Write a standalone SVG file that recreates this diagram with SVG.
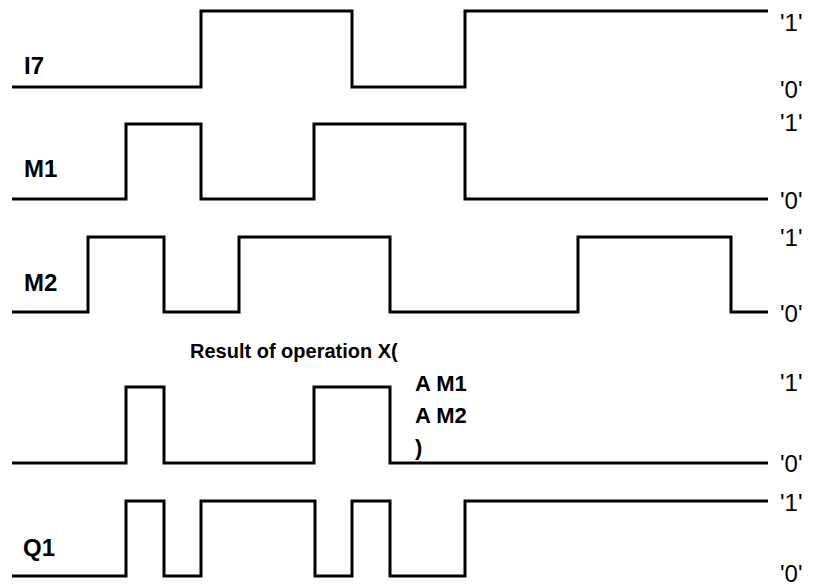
<svg xmlns="http://www.w3.org/2000/svg" width="814" height="588" viewBox="0 0 814 588">
<style>
.sig{fill:none;stroke:#000;stroke-width:3;stroke-linejoin:miter;stroke-linecap:butt}
.lb{font-family:"Liberation Sans",Arial,sans-serif;font-weight:bold;font-size:24px;fill:#000}
.op{font-family:"Liberation Sans",Arial,sans-serif;font-weight:bold;font-size:20px;fill:#000}
.op2{font-family:"Liberation Sans",Arial,sans-serif;font-weight:bold;font-size:22px;fill:#000}
.lv{font-family:"Liberation Sans",Arial,sans-serif;font-size:24px;fill:#000}
</style>
<rect width="814" height="588" fill="#fff"/>
<g id="connectors">
<path id="w-I7" class="sig" d="M12,87 H201 V11 H352 V87 H465 V11 H768"/>
<path id="w-M1" class="sig" d="M12,199 H126 V124 H201 V199 H314 V124 H465 V199 H768"/>
<path id="w-M2" class="sig" d="M12,312 H88 V237 H164 V312 H239 V237 H390 V312 H578 V237 H731 V312 H768"/>
<path id="w-R" class="sig" d="M12,463 H126 V387 H164 V463 H314 V387 H390 V463 H768"/>
<path id="w-Q1" class="sig" d="M12,576 H126 V501 H164 V576 H201 V501 H315 V576 H352 V501 H390 V576 H465 V501 H768"/>
</g>
<g id="I7"><text class="lb" x="24" y="74">I7</text></g>
<g id="M1"><text class="lb" x="24" y="177">M1</text></g>
<g id="M2"><text class="lb" x="24" y="291">M2</text></g>
<g id="Result">
<text class="op" x="190" y="358">Result of operation X(</text>
<text class="op2" x="415" y="391">A M1</text>
<text class="op2" x="415" y="423">A M2</text>
<text class="op2" x="415" y="455">)</text>
</g>
<g id="Q1"><text class="lb" x="23" y="556">Q1</text></g>
<g id="levels">
<text class="lv" x="780" y="31">'1'</text>
<text class="lv" x="780" y="98">'0'</text>
<text class="lv" x="780" y="131">'1'</text>
<text class="lv" x="780" y="209">'0'</text>
<text class="lv" x="780" y="246">'1'</text>
<text class="lv" x="780" y="322">'0'</text>
<text class="lv" x="780" y="391">'1'</text>
<text class="lv" x="780" y="472">'0'</text>
<text class="lv" x="780" y="511">'1'</text>
<text class="lv" x="780" y="582">'0'</text>
</g>
</svg>
